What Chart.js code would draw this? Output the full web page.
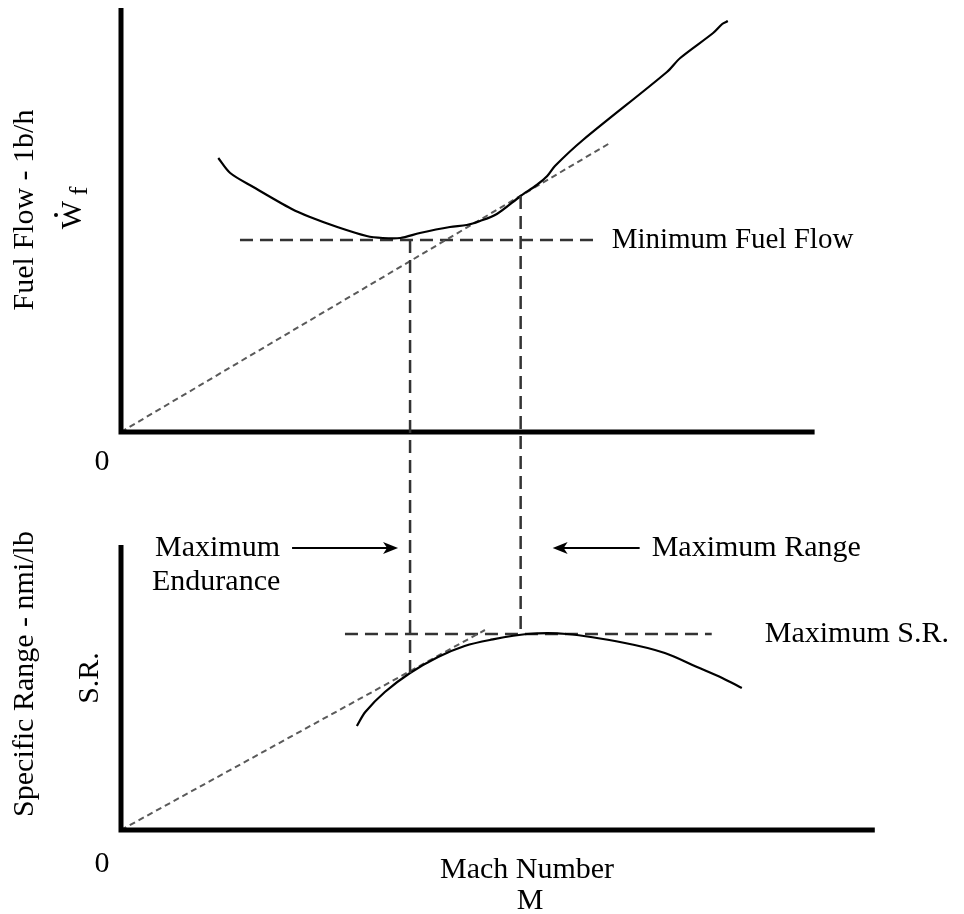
<!DOCTYPE html>
<html>
<head>
<meta charset="utf-8">
<script src="https://cdn.jsdelivr.net/npm/chart.js@4"></script>
<style>
  html, body { margin: 0; padding: 0; background: #fff; }
  #wrap { position: relative; width: 964px; height: 914px; }
</style>
</head>
<body>
<div id="wrap"><canvas id="machChart" width="964" height="914"></canvas></div>
<script>
// top panel: fuel flow (lb/h) against Mach number
const fuelMach = [0.139, 0.156, 0.189, 0.244, 0.270, 0.309, 0.351, 0.374, 0.399, 0.427, 0.470, 0.494,
                  0.513, 0.537, 0.571, 0.594, 0.609, 0.620, 0.660, 0.780, 0.799, 0.846, 0.859, 0.867];
const fuelFlow = [2740, 2590, 2450, 2230, 2150, 2050, 1960, 1940, 1940, 1990, 2050, 2070,
                  2110, 2180, 2360, 2470, 2560, 2660, 2920, 3600, 3740, 3990, 4080, 4110];

// tangent ray from the origin (max range)
const rangeRayMach = [0, 0.701];
const rangeRayFlow = [0, 2900];

// minimum fuel flow reference
const minFlowMach = [0.170, 0.681];
const minFlowValue = 1920;

// bottom panel: specific range (nmi/lb) against Mach number
const srMach = [0.337, 0.349, 0.377, 0.413, 0.453, 0.491, 0.527, 0.580, 0.637, 0.720, 0.777, 0.823, 0.859, 0.887];
const srValue = [0.104, 0.118, 0.138, 0.157, 0.173, 0.184, 0.190, 0.196, 0.196, 0.187, 0.177, 0.163, 0.152, 0.142];

// tangent ray from the origin (max endurance)
const enduranceRayMach = [0, 0.520];
const enduranceRaySR = [0, 0.200];

// maximum S.R. reference
const maxSRMach = [0.320, 0.844];
const maxSRValue = 0.196;

// drop lines between the panels
const enduranceMach = 0.413;
const enduranceSR = 0.157;
const rangeMach = 0.571;
const rangeFlow = 2360;
const rangeSR = 0.196;

// axis extents
const fuelAxisTop = 4240;
const fuelAxisEnd = 0.991;
const srAxisTop = 0.285;
const srAxisEnd = 1.077;

const serif = '"Liberation Serif", "Times New Roman", serif';

function pts(xs, ys) {
  return xs.map((v, i) => ({ x: v, y: Array.isArray(ys) ? ys[i] : ys }));
}

const solid = { borderColor: '#000', borderWidth: 2.2, pointRadius: 0, tension: 0.3, showLine: true, clip: false };
const ray = { borderColor: '#5a5a5a', borderWidth: 2, borderDash: [6, 4], pointRadius: 0, showLine: true, clip: false };
const guide = { borderColor: '#333', borderWidth: 2.5, borderDash: [13, 7], pointRadius: 0, showLine: true, clip: false };

const annotate = {
  id: 'annotate',
  afterDatasetsDraw(chart) {
    const { ctx } = chart;
    const x = chart.scales.x, yF = chart.scales.yF, yS = chart.scales.yS;
    ctx.save();

    // axes
    ctx.strokeStyle = '#000';
    ctx.lineWidth = 5;
    ctx.lineJoin = 'miter';
    ctx.beginPath();
    ctx.moveTo(x.getPixelForValue(0), yF.getPixelForValue(fuelAxisTop));
    ctx.lineTo(x.getPixelForValue(0), yF.getPixelForValue(0));
    ctx.lineTo(x.getPixelForValue(fuelAxisEnd), yF.getPixelForValue(0));
    ctx.stroke();
    ctx.beginPath();
    ctx.moveTo(x.getPixelForValue(0), yS.getPixelForValue(srAxisTop));
    ctx.lineTo(x.getPixelForValue(0), yS.getPixelForValue(0));
    ctx.lineTo(x.getPixelForValue(srAxisEnd), yS.getPixelForValue(0));
    ctx.stroke();

    // vertical drop lines
    ctx.strokeStyle = '#333';
    ctx.lineWidth = 2.5;
    ctx.setLineDash([13, 7]);
    const xe = x.getPixelForValue(enduranceMach);
    ctx.beginPath();
    ctx.moveTo(xe, yF.getPixelForValue(minFlowValue));
    ctx.lineTo(xe, yS.getPixelForValue(enduranceSR));
    ctx.stroke();
    const xr = x.getPixelForValue(rangeMach);
    ctx.beginPath();
    ctx.moveTo(xr, yF.getPixelForValue(rangeFlow));
    ctx.lineTo(xr, yS.getPixelForValue(rangeSR));
    ctx.stroke();
    ctx.setLineDash([]);

    // arrows
    const arrowY = 548;
    function arrow(x0, x1) {
      const dir = Math.sign(x1 - x0);
      ctx.strokeStyle = '#000';
      ctx.fillStyle = '#000';
      ctx.lineWidth = 2;
      ctx.beginPath();
      ctx.moveTo(x0, arrowY);
      ctx.lineTo(x1 - dir * 10, arrowY);
      ctx.stroke();
      ctx.beginPath();
      ctx.moveTo(x1, arrowY);
      ctx.lineTo(x1 - dir * 15, arrowY - 6);
      ctx.lineTo(x1 - dir * 11, arrowY);
      ctx.lineTo(x1 - dir * 15, arrowY + 6);
      ctx.closePath();
      ctx.fill();
    }
    arrow(xe - 118, xe - 12);
    arrow(xr + 119, xr + 32);

    // texts
    ctx.fillStyle = '#000';
    ctx.textBaseline = 'middle';
    ctx.textAlign = 'left';
    ctx.font = '29px ' + serif;
    ctx.fillText('Minimum Fuel Flow', x.getPixelForValue(minFlowMach[1]) + 14, yF.getPixelForValue(minFlowValue));
    ctx.font = '30px ' + serif;
    ctx.fillText('Maximum', 155, arrowY);
    ctx.fillText('Endurance', 152, 582);
    ctx.fillText('Maximum Range', xr + 131, arrowY);
    ctx.fillText('Maximum S.R.', x.getPixelForValue(maxSRMach[1]) + 53, yS.getPixelForValue(maxSRValue));
    ctx.fillText('Mach Number', 440, 870);
    ctx.textAlign = 'center';
    ctx.fillText('M', 530, 901);
    ctx.fillText('0', 102, 462);
    ctx.fillText('0', 102, 864);

    // rotated axis titles
    function vtext(str, cx, cy, font) {
      ctx.save();
      ctx.translate(cx, cy);
      ctx.rotate(-Math.PI / 2);
      ctx.font = font;
      ctx.textAlign = 'center';
      ctx.textBaseline = 'middle';
      ctx.fillText(str, 0, 0);
      ctx.restore();
    }
    vtext('Fuel Flow - 1b/h', 25, 210, '30px ' + serif);
    vtext('Specific Range - nmi/lb', 25, 674, '30px ' + serif);
    vtext('S.R.', 90, 678, '30px ' + serif);
    vtext('W', 73, 215, '30px ' + serif);
    vtext('f', 80, 191, '26px ' + serif);
    ctx.beginPath();
    ctx.arc(56, 215, 2, 0, Math.PI * 2);
    ctx.fill();

    ctx.restore();
  }
};

new Chart(document.getElementById('machChart').getContext('2d'), {
  type: 'scatter',
  data: {
    datasets: [
      Object.assign({ data: pts(fuelMach, fuelFlow), yAxisID: 'yF' }, solid),
      Object.assign({ data: pts(rangeRayMach, rangeRayFlow), yAxisID: 'yF' }, ray),
      Object.assign({ data: pts(minFlowMach, minFlowValue), yAxisID: 'yF' }, guide),
      Object.assign({ data: pts(srMach, srValue), yAxisID: 'yS' }, solid),
      Object.assign({ data: pts(enduranceRayMach, enduranceRaySR), yAxisID: 'yS' }, ray),
      Object.assign({ data: pts(maxSRMach, maxSRValue), yAxisID: 'yS' }, guide)
    ]
  },
  options: {
    responsive: false,
    animation: false,
    layout: { padding: { left: 121, top: 8, right: 64, bottom: 84 } },
    scales: {
      x: { type: 'linear', min: 0, max: 1.113, display: false },
      yF: { type: 'linear', min: -3980, max: 4240, display: false },
      yS: { type: 'linear', min: 0, max: 0.822, display: false }
    },
    plugins: {
      legend: { display: false },
      tooltip: { enabled: false }
    }
  },
  plugins: [annotate]
});
</script>
</body>
</html>
